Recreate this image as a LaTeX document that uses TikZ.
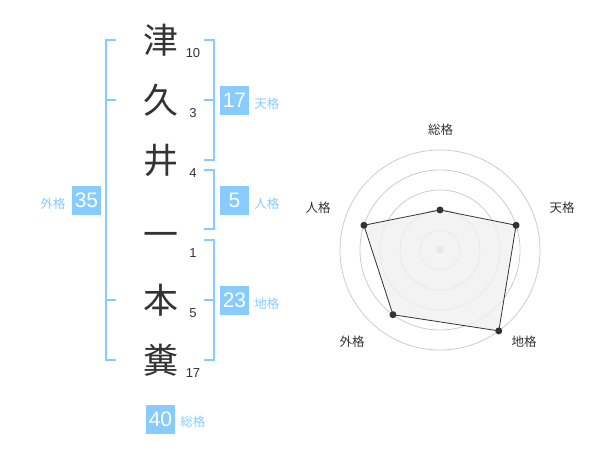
\documentclass[tikz,border=0pt]{standalone}
\usepackage{fontspec}
\setmainfont{Liberation Sans}
\newfontfamily\cjk{Noto Sans CJK JP}
\usepackage{xcolor}
\usetikzlibrary{positioning}

\definecolor{kakublue}{HTML}{88CCFF}
\definecolor{inkgray}{HTML}{333333}
\definecolor{ringgray}{HTML}{CCCCCC}
\definecolor{areagray}{HTML}{F0F0F0}

\begin{document}
\begin{tikzpicture}[
  x=1pt, y=1pt,
  kanji/.style={font=\cjk\fontsize{35}{35}\selectfont, text=inkgray, inner sep=0pt},
  strokes/.style={font=\fontsize{13}{13}\selectfont, text=inkgray, inner sep=0pt},
  kakubox/.style={rectangle, fill=kakublue, minimum width=29, minimum height=29, inner sep=0pt,
                  text=white, font=\fontsize{21}{21}\selectfont},
  kakulabel/.style={font=\cjk\fontsize{12.5}{12.5}\selectfont, text=kakublue, inner sep=0pt, yshift=-3},
  bracket/.style={draw=kakublue, line width=2pt},
  ring/.style={draw=ringgray, line width=0.8pt},
  axis/.style={font=\cjk\fontsize{12.5}{12.5}\selectfont, text=inkgray, inner sep=0pt},
  dot/.style={circle, fill=inkgray, minimum size=7, inner sep=0pt}
]
\useasboundingbox (0,0) rectangle (600,-470);

% Name
\node[kanji] (c1) at (160.5,-40) {津};
\node[kanji] (c2) at (160.5,-100) {久};
\node[kanji] (c3) at (160.5,-160) {井};
\node[kanji] (c4) at (160.5,-240) {一};
\node[kanji] (c5) at (160.5,-300) {本};
\node[kanji] (c6) at (160.5,-360) {糞};

% Stroke counts
\node[strokes] (s1) at (193,-53) {10};
\node[strokes] (s2) at (193,-113) {3};
\node[strokes] (s3) at (193,-173) {4};
\node[strokes] (s4) at (193,-253) {1};
\node[strokes] (s5) at (193,-313) {5};
\node[strokes] (s6) at (193,-373) {17};

% Brackets
\draw[bracket] (116,-40) -- (106,-40) -- (106,-360) -- (116,-360);
\draw[bracket] (106,-100) -- (116,-100);
\draw[bracket] (106,-300) -- (116,-300);
\draw[bracket] (204,-40) -- (214,-40) -- (214,-160) -- (204,-160);
\draw[bracket] (204,-100) -- (214,-100);
\draw[bracket] (204,-170) -- (214,-170) -- (214,-229) -- (204,-229);
\draw[bracket] (204,-240) -- (214,-240) -- (214,-360) -- (204,-360);
\draw[bracket] (204,-300) -- (214,-300);

% Boxes
\node[kakubox] (ten) at (234.5,-100.5) {17};
\node[kakubox] (jin) at (234.5,-200.5) {5};
\node[kakubox] (chi) at (234.5,-300.5) {23};
\node[kakubox] (gai) at (86.5,-200.5) {35};
\node[kakubox] (sou) at (160.5,-419) {40};

% Labels
\node[kakulabel, right=5 of ten] {天格};
\node[kakulabel, right=5 of jin] {人格};
\node[kakulabel, right=5 of chi] {地格};
\node[kakulabel, left=6 of gai] {外格};
\node[kakulabel, right=5 of sou] {総格};

% Radar chart
\begin{scope}[shift={(440,-250)}]
\draw[ring] (0,0) circle (20);
\draw[ring] (0,0) circle (40);
\draw[ring] (0,0) circle (60);
\draw[ring] (0,0) circle (80);
\draw[ring] (0,0) circle (100);
\fill[ringgray] (0,0) circle (4);

\coordinate (psou) at (90:40);
\coordinate (pten) at (18:80);
\coordinate (pchi) at (-54:100);
\coordinate (pgai) at (-126:80);
\coordinate (pjin) at (162:80);

\filldraw[fill=areagray, fill opacity=0.8, draw=inkgray, line width=0.8pt]
  (psou) -- (pten) -- (pchi) -- (pgai) -- (pjin) -- cycle;

\node[dot] at (psou) {};
\node[dot] at (pten) {};
\node[dot] at (pchi) {};
\node[dot] at (pgai) {};
\node[dot] at (pjin) {};

\node[axis] (asou) at (0.5,120) {総格};
\node[axis] (aten) at (122,42) {天格};
\node[axis] (achi) at (84,-92) {地格};
\node[axis] (agai) at (-88,-92) {外格};
\node[axis] (ajin) at (-122,42) {人格};
\end{scope}
\end{tikzpicture}
\end{document}
